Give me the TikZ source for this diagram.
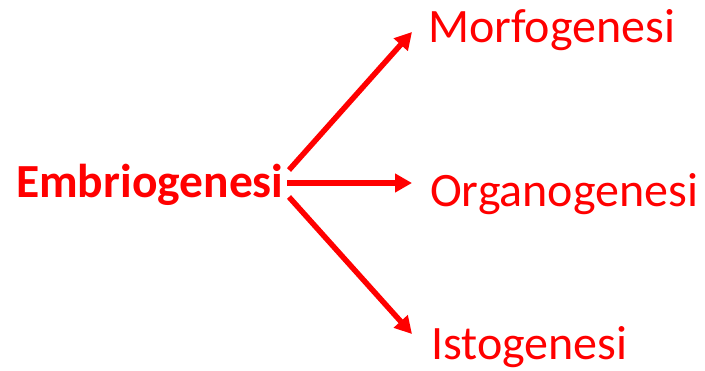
\documentclass[tikz,border=0pt]{standalone}
\usepackage{fontspec}
\setmainfont{Carlito}
\usetikzlibrary{arrows.meta}
\definecolor{pred}{RGB}{255,0,0}
\tikzset{
  lbl/.style={text=pred, font=\fontsize{48}{50}\selectfont, inner sep=0pt, anchor=base west},
  arr/.style={draw=pred, line width=5.5pt, -{Triangle[length=17pt,width=18pt]}}
}
\begin{document}
\begin{tikzpicture}[x=1pt,y=-1pt]
\useasboundingbox (0,0) rectangle (705,370);
\node[lbl, font=\fontsize{47.5}{50}\selectfont\bfseries] (emb) at (16,197) {Embriogenesi};
\node[lbl] (morf) at (428,42) {Morfogenesi};
\node[lbl] (organ) at (430,206) {Organogenesi};
\node[lbl] (isto) at (431,359) {Istogenesi};
\coordinate (s1) at (289,170);
\coordinate (s2) at (287,183);
\coordinate (s3) at (289,197);
\coordinate (e1) at (412,32);
\coordinate (e2) at (412,183);
\coordinate (e3) at (412,334);
\draw[arr] (s1) -- (e1);
\draw[arr] (s2) -- (e2);
\draw[arr] (s3) -- (e3);
\end{tikzpicture}
\end{document}
